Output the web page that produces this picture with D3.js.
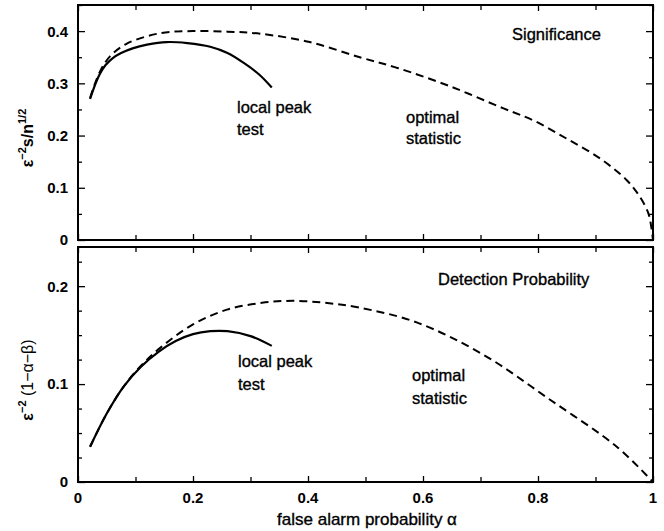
<!DOCTYPE html>
<html>
<head>
<meta charset="utf-8">
<title>Significance and detection probability</title>
<script src="https://d3js.org/d3.v7.min.js"></script>
<style>
	body { margin: 0; background: #fff; }
	svg text { font-family: "Liberation Sans", Arial, Helvetica, sans-serif; fill: #000; }
	svg text.heavy { stroke: #000; stroke-width: 0.35; }
</style>
</head>
<body>
<div id="chart"></div>
<script>

// false alarm probability alpha (x) and curve values
var sigPeakAlpha = [0.021, 0.03, 0.038, 0.048, 0.06, 0.075, 0.095, 0.12, 0.154, 0.19, 0.23, 0.26, 0.287, 0.315, 0.337];
var sigPeakValue = [0.270, 0.298, 0.318, 0.335, 0.348, 0.358, 0.367, 0.374, 0.379, 0.377, 0.370, 0.358, 0.340, 0.317, 0.292];

var sigOptAlpha = [0.021, 0.038, 0.056, 0.085, 0.143, 0.2, 0.26, 0.317, 0.403, 0.49, 0.557, 0.65, 0.74, 0.792, 0.85, 0.908, 0.954, 0.977, 0.992, 0.997, 1.0];
var sigOptValue = [0.272, 0.322, 0.352, 0.376, 0.396, 0.400, 0.399, 0.395, 0.379, 0.350, 0.329, 0.293, 0.252, 0.229, 0.194, 0.156, 0.115, 0.083, 0.051, 0.025, 0.0];

var detPeakAlpha = [0.021, 0.05, 0.08, 0.11, 0.14, 0.17, 0.2, 0.23, 0.26, 0.3, 0.337];
var detPeakValue = [0.036, 0.070, 0.098, 0.118, 0.133, 0.144, 0.151, 0.154, 0.154, 0.149, 0.139];

var detOptAlpha = [0.021, 0.05, 0.08, 0.11, 0.143, 0.2, 0.259, 0.32, 0.374, 0.43, 0.49, 0.589, 0.705, 0.821, 0.937, 1.0];
var detOptValue = [0.036, 0.070, 0.098, 0.119, 0.137, 0.161, 0.176, 0.183, 0.185, 0.183, 0.178, 0.163, 0.130, 0.084, 0.036, 0.0];

var xTicks = [0, 0.2, 0.4, 0.6, 0.8, 1];
var xMinor = [0.1, 0.3, 0.5, 0.7, 0.9];
var sigTicks = [0, 0.1, 0.2, 0.3, 0.4];
var sigMinor = [0.05, 0.15, 0.25, 0.35, 0.45];
var detTicks = [0, 0.1, 0.2];
var detMinor = [0.025, 0.05, 0.075, 0.125, 0.15, 0.175, 0.225];

var width = 664, height = 531;
var svg = d3.select("#chart").append("svg")
	.attr("width", width)
	.attr("height", height);

var left = 78, right = 653;
var x = d3.scaleLinear().domain([0, 1]).range([left, right]);

var line = function(yScale) {
	return d3.line()
		.x(function(d) { return x(d[0]); })
		.y(function(d) { return yScale(d[1]); })
		.curve(d3.curveCatmullRom.alpha(0.5));
};

function zip(a, b) { return a.map(function(v, i) { return [v, b[i]]; }); }

// draws one panel: frame, inward ticks on all four sides, labels
function panel(top, bottom, domain, ticks, minor, showX) {
	var y = d3.scaleLinear().domain(domain).range([bottom, top]);
	var g = svg.append("g");

	var ax = function(axis, tr, vals, size) {
		g.append("g").attr("transform", tr)
			.call(axis.tickValues(vals).tickSize(size).tickFormat(""))
			.call(function(s) {
				s.select(".domain").remove();
				s.selectAll("line").attr("stroke", "#000").attr("stroke-width", 1.3);
			});
	};
	ax(d3.axisTop(x), "translate(0," + bottom + ")", xTicks, 6);
	ax(d3.axisTop(x), "translate(0," + bottom + ")", xMinor, 5);
	ax(d3.axisBottom(x), "translate(0," + top + ")", xTicks, 6);
	ax(d3.axisBottom(x), "translate(0," + top + ")", xMinor, 5);
	ax(d3.axisRight(y), "translate(" + left + ",0)", ticks, 7);
	ax(d3.axisRight(y), "translate(" + left + ",0)", minor, 4);
	ax(d3.axisLeft(y), "translate(" + right + ",0)", ticks, 7);
	ax(d3.axisLeft(y), "translate(" + right + ",0)", minor, 4);

	g.append("rect")
		.attr("x", left).attr("y", top)
		.attr("width", right - left).attr("height", bottom - top)
		.attr("fill", "none").attr("stroke", "#000").attr("stroke-width", 2);

	g.selectAll(".ylab").data(ticks).enter().append("text")
		.attr("x", left - 10)
		.attr("y", function(d) { return y(d); })
		.attr("dy", "0.36em")
		.attr("text-anchor", "end")
		.attr("font-size", 15).attr("font-weight", "bold")
		.text(function(d) { return d === 0 ? "0" : d3.format(".1f")(d); });

	if (showX) {
		g.selectAll(".xlab").data(xTicks).enter().append("text")
			.attr("x", function(d) { return x(d); })
			.attr("y", bottom + 21)
			.attr("text-anchor", "middle")
			.attr("font-size", 15).attr("font-weight", "bold")
			.text(function(d) { return d === 0 || d === 1 ? d : d3.format(".1f")(d); });
	}
	return { g: g, y: y };
}

var topP = panel(5, 240, [0, 0.45], sigTicks, sigMinor, false);
var botP = panel(247, 482, [0, 0.24], detTicks, detMinor, true);

function curves(p, peakA, peakV, optA, optV) {
	p.g.append("path")
		.datum(zip(optA, optV))
		.attr("d", line(p.y))
		.attr("fill", "none").attr("stroke", "#000")
		.attr("stroke-width", 2).attr("stroke-dasharray", "8,5");
	p.g.append("path")
		.datum(zip(peakA, peakV))
		.attr("d", line(p.y))
		.attr("fill", "none").attr("stroke", "#000")
		.attr("stroke-width", 2.2);
}
curves(topP, sigPeakAlpha, sigPeakValue, sigOptAlpha, sigOptValue);
curves(botP, detPeakAlpha, detPeakValue, detOptAlpha, detOptValue);

// annotations
function note(lines, px, py, dy) {
	lines.forEach(function(t, i) {
		svg.append("text")
			.attr("class", "heavy")
			.attr("x", px).attr("y", py + i * dy)
			.attr("font-size", 16.5)
			.text(t);
	});
}
note(["Significance"], 512, 40, 0);
note(["local peak", "test"], 237, 113, 22);
note(["optimal", "statistic"], 406, 123, 21);
note(["Detection Probability"], 438, 285, 0);
note(["local peak", "test"], 238, 367, 23);
note(["optimal", "statistic"], 412, 381, 23);

// axis titles
svg.append("text")
	.attr("class", "heavy")
	.attr("x", 367).attr("y", 525)
	.attr("text-anchor", "middle")
	.attr("font-size", 17)
	.text("false alarm probability \u03b1");

var yl1 = svg.append("text")
	.attr("transform", "translate(33,138) rotate(-90)")
	.attr("text-anchor", "middle")
	.attr("font-size", 16).attr("font-weight", "bold");
yl1.append("tspan").text("\u03b5");
yl1.append("tspan").attr("dy", -7).attr("font-size", 11).text("\u22122");
yl1.append("tspan").attr("dy", 7).text("s/n");
yl1.append("tspan").attr("dy", -7).attr("font-size", 11).text("1/2");

var yl2 = svg.append("text")
	.attr("transform", "translate(33,380) rotate(-90)")
	.attr("text-anchor", "middle")
	.attr("font-size", 16);
yl2.append("tspan").attr("font-weight", "bold").text("\u03b5");
yl2.append("tspan").attr("dy", -7).attr("font-size", 11).attr("font-weight", "bold").text("\u22122");
yl2.append("tspan").attr("class", "heavy").attr("dy", 7).text(" (1\u2212\u03b1\u2212\u03b2)");

</script>
</body>
</html>
